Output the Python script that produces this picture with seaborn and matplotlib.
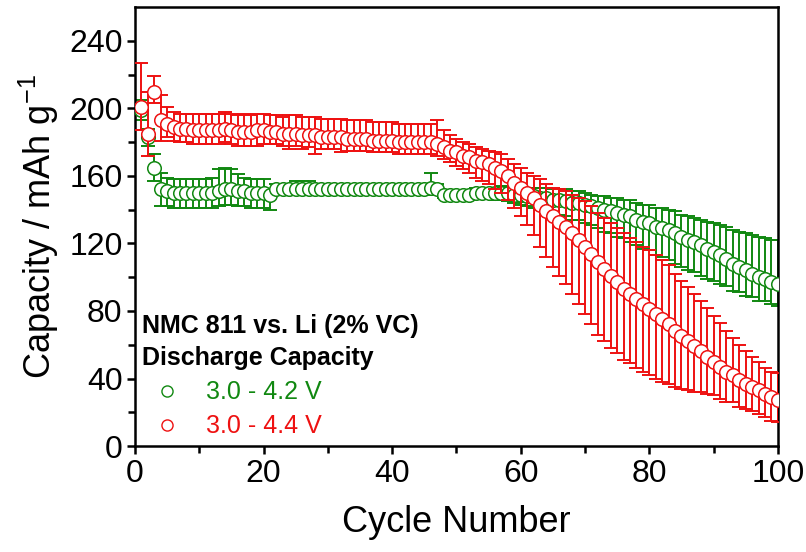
import numpy as np
import pandas as pd
import matplotlib
matplotlib.use("Agg")
import matplotlib.pyplot as plt
from matplotlib.lines import Line2D
import seaborn as sns

# cycle index
cycles = list(range(1, 101))

# 3.0 - 4.2 V discharge capacity (mAh/g) and its error bars
cap_42 = [199, 183, 165, 152, 151, 150, 150, 150, 150, 150,
          150, 150, 151, 152, 152, 151, 151, 150, 150, 150,
          149, 152, 152, 152, 152, 152, 152, 152, 152, 152,
          152, 152, 152, 152, 152, 152, 152, 152, 152, 152,
          152, 152, 152, 152, 152, 153, 152, 149, 149, 149,
          149, 149, 150, 150, 150, 150, 150, 150, 149, 149,
          148, 148, 147, 147, 146, 146, 145, 144, 144, 143,
          142, 141, 140, 139, 138, 137, 136, 134, 133, 132,
          130, 129, 128, 126, 124, 122, 121, 119, 117, 115,
          113, 111, 108, 106, 104, 102, 100, 99, 97, 96]
err_up_42 = [6, 5, 8, 10, 8, 8, 8, 8, 8, 8,
             8, 9, 13, 13, 12, 10, 8, 8, 8, 8,
             3, 3, 3, 3, 5, 5, 5, 3, 3, 3,
             3, 3, 3, 3, 3, 3, 3, 3, 3, 3,
             3, 3, 3, 3, 3, 9, 3, 2, 2, 2,
             2, 2, 3, 3, 3, 3, 4, 4, 5, 5,
             5, 5, 6, 6, 6, 6, 7, 7, 7, 7,
             7, 7, 8, 8, 9, 9, 10, 10, 10, 11,
             11, 12, 12, 13, 13, 14, 14, 15, 16, 17,
             18, 19, 20, 21, 22, 23, 24, 24, 25, 26]
err_lo_42 = [6, 5, 8, 10, 9, 9, 9, 9, 9, 9,
             9, 9, 9, 9, 9, 9, 9, 9, 9, 9,
             9, 3, 3, 3, 3, 3, 3, 3, 3, 3,
             3, 3, 3, 3, 3, 3, 3, 3, 3, 3,
             3, 3, 3, 3, 3, 3, 3, 2, 2, 2,
             2, 2, 3, 3, 3, 4, 4, 5, 5, 6,
             6, 7, 7, 8, 8, 9, 9, 10, 10, 11,
             11, 12, 13, 13, 14, 14, 15, 15, 16, 16,
             17, 17, 18, 18, 18, 18, 18, 18, 18, 17,
             17, 16, 16, 15, 15, 14, 14, 13, 13, 13]

# 3.0 - 4.4 V discharge capacity (mAh/g) and its error bars
cap_44 = [201, 185, 210, 193, 191, 189, 188, 188, 187, 187,
          187, 187, 187, 188, 187, 186, 186, 186, 187, 187,
          186, 186, 185, 185, 185, 184, 184, 184, 183, 183,
          183, 183, 182, 182, 182, 182, 181, 181, 181, 181,
          180, 180, 180, 180, 180, 180, 179, 177, 175, 174,
          172, 171, 169, 168, 167, 165, 163, 160, 156, 153,
          150, 147, 143, 139, 136, 133, 130, 126, 122, 118,
          114, 109, 105, 101, 97, 93, 90, 87, 84, 81,
          78, 75, 72, 68, 65, 62, 59, 56, 53, 50,
          47, 44, 42, 39, 37, 35, 33, 31, 29, 27]
err_up_44 = [26, 25, 9, 15, 10, 9, 9, 9, 10, 10,
             10, 10, 10, 10, 10, 10, 11, 10, 10, 10,
             10, 10, 10, 11, 11, 11, 11, 11, 11, 11,
             11, 11, 11, 11, 11, 11, 11, 11, 11, 11,
             11, 11, 11, 11, 11, 11, 14, 10, 9, 8,
             8, 8, 8, 8, 8, 9, 10, 10, 11, 12,
             12, 13, 15, 16, 17, 19, 21, 23, 25, 27,
             28, 29, 30, 31, 32, 33, 33, 34, 34, 35,
             35, 35, 35, 34, 33, 32, 31, 30, 29, 27,
             26, 24, 22, 21, 19, 18, 17, 15, 15, 16]
err_lo_44 = [14, 13, 7, 12, 8, 8, 8, 8, 8, 8,
             8, 8, 8, 8, 8, 8, 8, 8, 9, 8,
             7, 7, 7, 9, 7, 8, 7, 11, 7, 7,
             7, 9, 7, 7, 7, 7, 7, 7, 7, 7,
             7, 7, 7, 7, 7, 7, 7, 7, 7, 8,
             8, 9, 10, 11, 12, 13, 13, 14, 15, 17,
             19, 22, 25, 27, 30, 32, 34, 36, 38, 40,
             42, 43, 43, 43, 42, 42, 41, 41, 40, 39,
             38, 37, 35, 33, 31, 29, 27, 24, 22, 20,
             19, 18, 16, 16, 15, 14, 14, 14, 14, 13]

labels = ["3.0 - 4.2 V", "3.0 - 4.4 V"]
colors = ["#118811", "#ee1111"]
legend_title = "NMC 811 vs. Li (2% VC)\nDischarge Capacity"

sns.set_theme(style="ticks")
plt.rcParams["font.family"] = ["Liberation Sans", "DejaVu Sans"]
plt.rcParams["mathtext.default"] = "regular"
plt.rcParams["text.color"] = "black"
plt.rcParams["axes.labelcolor"] = "black"
plt.rcParams["xtick.color"] = "black"
plt.rcParams["ytick.color"] = "black"

df = pd.concat([
    pd.DataFrame({"cycle": cycles, "cap": cap_42, "lo": err_lo_42, "up": err_up_42, "range": labels[0]}),
    pd.DataFrame({"cycle": cycles, "cap": cap_44, "lo": err_lo_44, "up": err_up_44, "range": labels[1]}),
])

fig = plt.figure(figsize=(8.06, 5.52), dpi=100)
ax = fig.add_axes([0.1675, 0.192, 0.7975, 0.795])

z = 2
for lab, col in zip(labels, colors):
    d = df[df["range"] == lab]
    ax.errorbar(d["cycle"], d["cap"], yerr=[d["lo"], d["up"]], fmt="none",
                ecolor=col, elinewidth=1.4, capsize=5, capthick=1.4, zorder=z)
    sns.scatterplot(data=d, x="cycle", y="cap", ax=ax, marker="o", s=95,
                    color="white", edgecolor=col, linewidth=1.1, zorder=z + 1,
                    legend=False)
    z += 2

ax.set_xlim(0, 100)
ax.set_ylim(0, 260)
ax.set_xticks(np.arange(0, 101, 20))
ax.set_xticks(np.arange(10, 100, 20), minor=True)
ax.set_yticks(np.arange(0, 241, 40))
ax.set_yticks(np.arange(20, 260, 40), minor=True)
ax.tick_params(axis="both", which="major", direction="out", length=6, width=1.8,
               labelsize=23, pad=3)
ax.tick_params(axis="both", which="minor", direction="out", length=5, width=1.8)
for sp in ax.spines.values():
    sp.set_linewidth(1.8)
    sp.set_color("black")

ax.set_xlabel("Cycle Number", fontsize=26, labelpad=12)
ax.set_ylabel("Capacity / mAh g$^{-1}$", fontsize=26, labelpad=6)

handles = [Line2D([], [], marker="o", linestyle="none", markersize=8,
                  markerfacecolor="white", markeredgecolor=c, markeredgewidth=1.0)
           for c in colors]
leg = ax.legend(handles, labels, title=legend_title, loc="lower left",
                bbox_to_anchor=(-0.02, -0.028), frameon=False, fontsize=18,
                labelcolor="markeredgecolor", alignment="left",
                handletextpad=0.55, labelspacing=0.4, borderpad=0.3,
                handlelength=2.0)
leg.get_title().set_fontsize(18)
leg.get_title().set_fontweight("bold")
leg.get_title().set_linespacing(1.45)

fig.savefig("out.png", dpi=100)
